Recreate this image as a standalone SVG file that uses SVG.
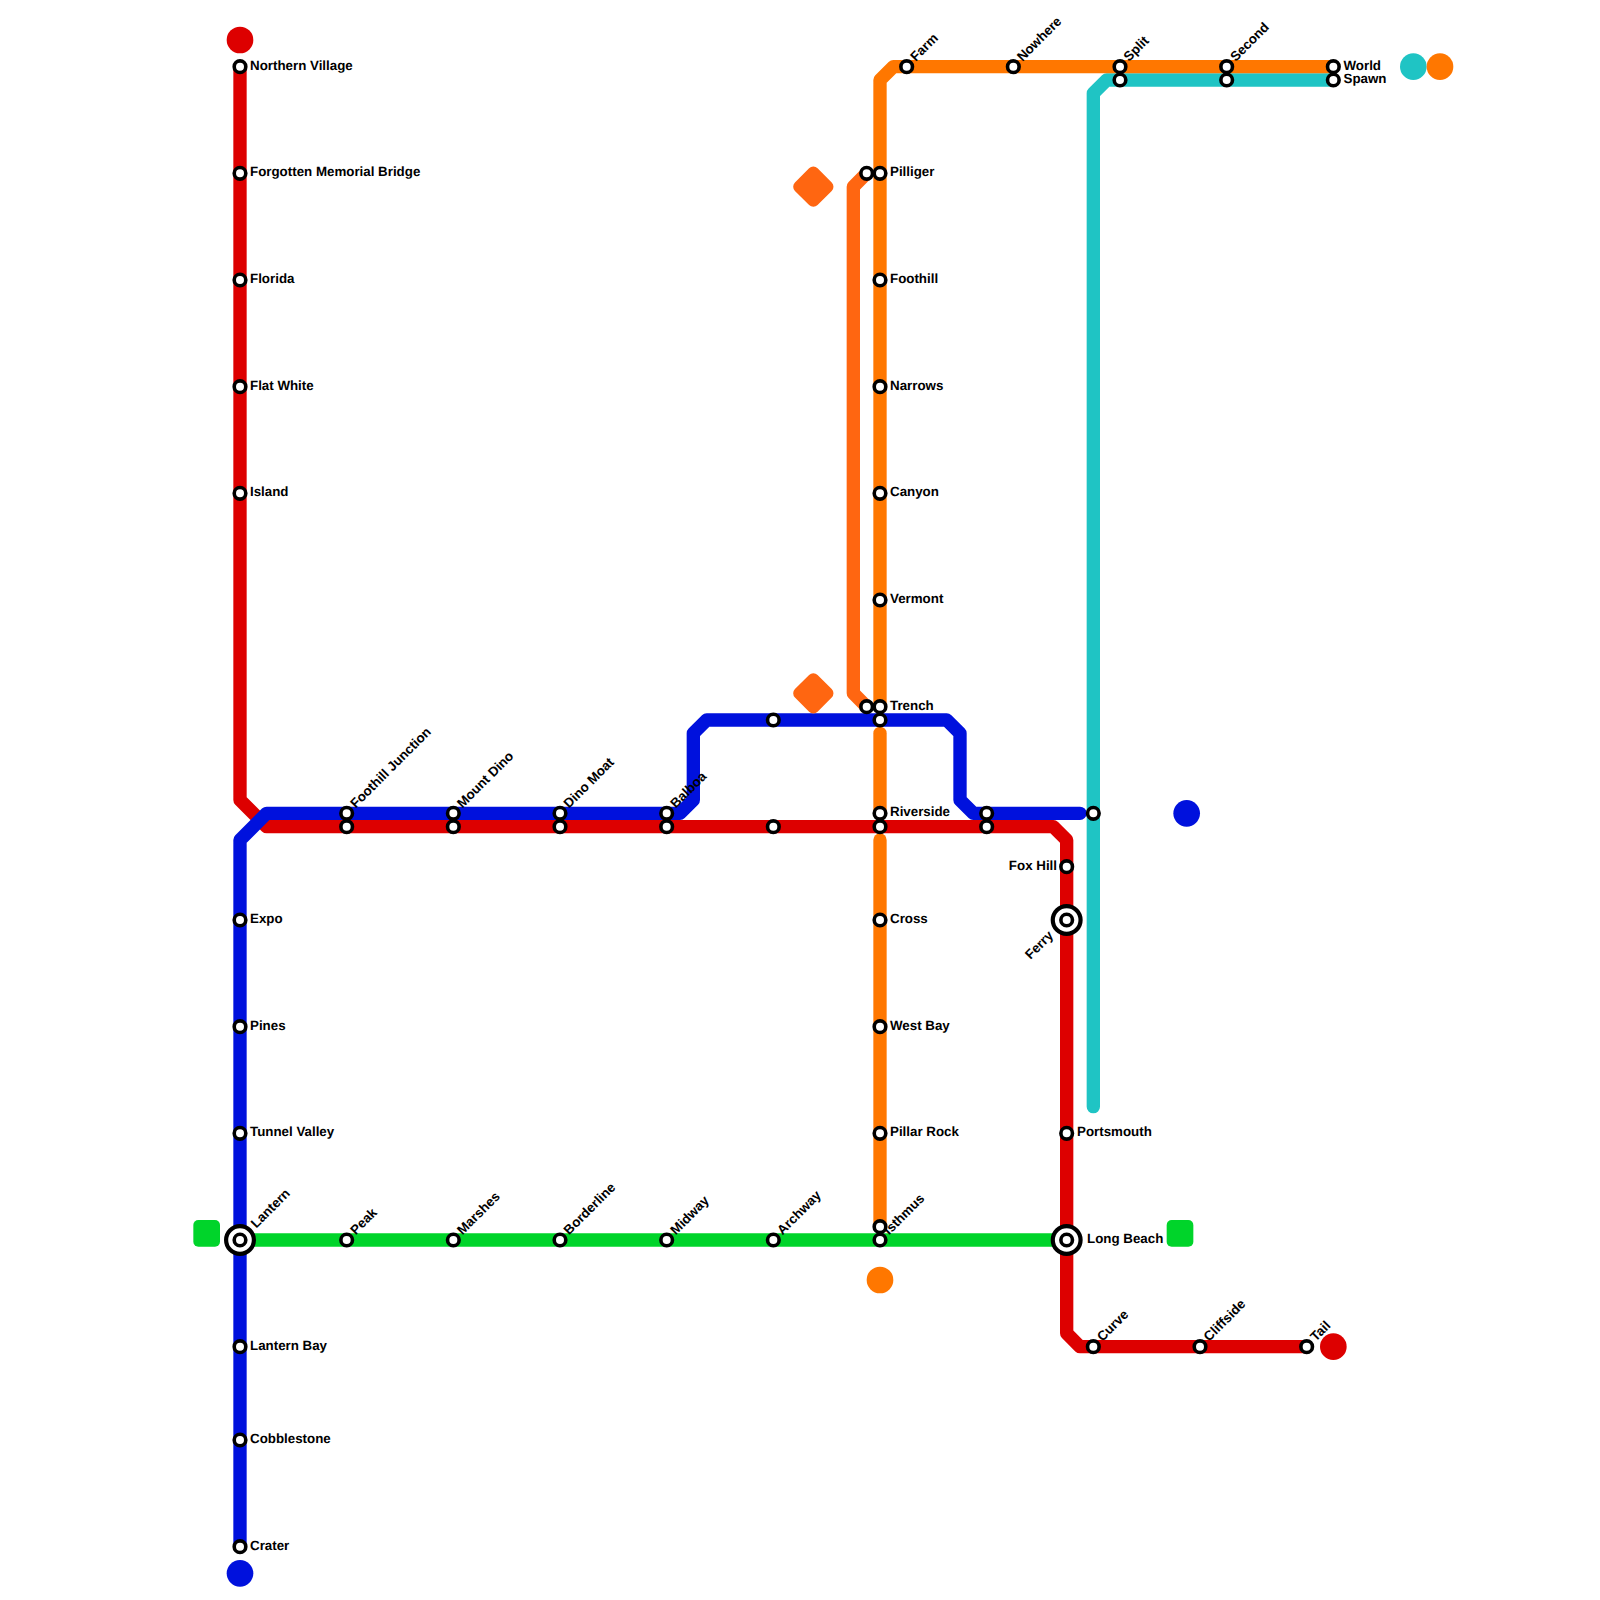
<svg xmlns="http://www.w3.org/2000/svg" width="1600" height="1600" viewBox="0 0 1600 1600">
<style>
.l{fill:none;stroke-width:13.33;stroke-linecap:round;stroke-linejoin:round}
.s{fill:#fff;stroke:#000;stroke-width:3.6}
.o{fill:#fff;stroke:#000;stroke-width:4.2}
text{font-family:"Liberation Sans",Arial,sans-serif;font-weight:bold;font-size:13.33px;fill:#000;text-rendering:geometricPrecision}
.e{text-anchor:end}
.red{fill:#dd0000}.blue{fill:#0011dd}.cyan{fill:#1fc4c4}.orange{fill:#ff7700}.dark{fill:#ff6611}.green{fill:#00d42a}
</style>
<rect width="1600" height="1600" fill="#fff"/>
<g id="connectors">
<path class="l" stroke="#1fc4c4" d="M1093.33 1106.67V93.33L1106.67 80H1333.33"/>
<path class="l" stroke="#ff7700" d="M1333.33 66.67H893.33L880 80V706.67"/>
<path class="l" stroke="#ff7700" d="M880 733.33V813.33"/>
<path class="l" stroke="#ff7700" d="M880 840V1226.67"/>
<path class="l" stroke="#ff6611" d="M866.67 173.33L853.33 186.67V693.33L866.67 706.67"/>
<path class="l" stroke="#dd0000" d="M240 66.67V800L266.67 826.67H1053.33L1066.67 840V1333.33L1080 1346.67H1306.67"/>
<path class="l" stroke="#0011dd" d="M240 1546.67V840L266.67 813.33H680L693.33 800V733.33L706.67 720H946.67L960 733.33V800L973.33 813.33H1080"/>
<path class="l" stroke="#00d42a" d="M240 1240H1066.67"/>
</g>
<g id="terminals">
<circle class="red" cx="240" cy="40" r="13.33"/>
<circle class="red" cx="1333.33" cy="1346.67" r="13.33"/>
<circle class="blue" cx="240" cy="1573.33" r="13.33"/>
<circle class="blue" cx="1186.67" cy="813.33" r="13.33"/>
<circle class="cyan" cx="1413.33" cy="66.67" r="13.33"/>
<circle class="orange" cx="1440" cy="66.67" r="13.33"/>
<circle class="orange" cx="880" cy="1280" r="13.33"/>
<rect class="green" x="193.33" y="1220" width="26.67" height="26.67" rx="5"/>
<rect class="green" x="1166.67" y="1220" width="26.67" height="26.67" rx="5"/>
<rect class="dark" x="797.33" y="170.67" width="32" height="32" rx="6" transform="rotate(45 813.33 186.67)"/>
<rect class="dark" x="797.33" y="677.33" width="32" height="32" rx="6" transform="rotate(45 813.33 693.33)"/>
</g>
<g id="n-northern-village"><circle class="s" cx="240" cy="66.67" r="5.8"/><text x="250" y="69.7">Northern Village</text></g>
<g id="n-forgotten"><circle class="s" cx="240" cy="173.33" r="5.8"/><text x="250" y="176.2">Forgotten Memorial Bridge</text></g>
<g id="n-florida"><circle class="s" cx="240" cy="280" r="5.8"/><text x="250" y="282.9">Florida</text></g>
<g id="n-flat-white"><circle class="s" cx="240" cy="386.67" r="5.8"/><text x="250" y="389.6">Flat White</text></g>
<g id="n-island"><circle class="s" cx="240" cy="493.33" r="5.8"/><text x="250" y="496.2">Island</text></g>
<g id="n-expo"><circle class="s" cx="240" cy="920" r="5.8"/><text x="250" y="922.9">Expo</text></g>
<g id="n-pines"><circle class="s" cx="240" cy="1026.67" r="5.8"/><text x="250" y="1029.6">Pines</text></g>
<g id="n-tunnel-valley"><circle class="s" cx="240" cy="1133.33" r="5.8"/><text x="250" y="1136.2">Tunnel Valley</text></g>
<g id="n-lantern"><circle class="o" cx="240" cy="1240" r="13.9"/><circle class="s" cx="240" cy="1240" r="5.8"/><text transform="translate(256.3 1228.7) rotate(-45)">Lantern</text></g>
<g id="n-lantern-bay"><circle class="s" cx="240" cy="1346.67" r="5.8"/><text x="250" y="1349.6">Lantern Bay</text></g>
<g id="n-cobblestone"><circle class="s" cx="240" cy="1440" r="5.8"/><text x="250" y="1442.9">Cobblestone</text></g>
<g id="n-crater"><circle class="s" cx="240" cy="1546.67" r="5.8"/><text x="250" y="1549.6">Crater</text></g>
<g id="n-foothill-junction"><circle class="s" cx="346.67" cy="813.33" r="5.8"/><text transform="translate(355.8 808.7) rotate(-45)">Foothill Junction</text></g>
<g id="n-foothill-junction-2"><circle class="s" cx="346.67" cy="826.67" r="5.8"/></g>
<g id="n-mount-dino"><circle class="s" cx="453.33" cy="813.33" r="5.8"/><text transform="translate(462.5 808.7) rotate(-45)">Mount Dino</text></g>
<g id="n-mount-dino-2"><circle class="s" cx="453.33" cy="826.67" r="5.8"/></g>
<g id="n-dino-moat"><circle class="s" cx="560" cy="813.33" r="5.8"/><text transform="translate(569.1 808.7) rotate(-45)">Dino Moat</text></g>
<g id="n-dino-moat-2"><circle class="s" cx="560" cy="826.67" r="5.8"/></g>
<g id="n-balboa"><circle class="s" cx="666.67" cy="813.33" r="5.8"/><text transform="translate(675.8 808.7) rotate(-45)">Balboa</text></g>
<g id="n-balboa-2"><circle class="s" cx="666.67" cy="826.67" r="5.8"/></g>
<g id="n-x773-720"><circle class="s" cx="773.33" cy="720" r="5.8"/></g>
<g id="n-x773-826"><circle class="s" cx="773.33" cy="826.67" r="5.8"/></g>
<g id="n-x986-813"><circle class="s" cx="986.67" cy="813.33" r="5.8"/></g>
<g id="n-x986-826"><circle class="s" cx="986.67" cy="826.67" r="5.8"/></g>
<g id="n-x1093-813"><circle class="s" cx="1093.33" cy="813.33" r="5.8"/></g>
<g id="n-peak"><circle class="s" cx="346.67" cy="1240" r="5.8"/><text transform="translate(355.8 1235.4) rotate(-45)">Peak</text></g>
<g id="n-marshes"><circle class="s" cx="453.33" cy="1240" r="5.8"/><text transform="translate(462.5 1235.4) rotate(-45)">Marshes</text></g>
<g id="n-borderline"><circle class="s" cx="560" cy="1240" r="5.8"/><text transform="translate(569.1 1235.4) rotate(-45)">Borderline</text></g>
<g id="n-midway"><circle class="s" cx="666.67" cy="1240" r="5.8"/><text transform="translate(675.8 1235.4) rotate(-45)">Midway</text></g>
<g id="n-archway"><circle class="s" cx="773.33" cy="1240" r="5.8"/><text transform="translate(782.5 1235.4) rotate(-45)">Archway</text></g>
<g id="n-isthmus"><circle class="s" cx="880" cy="1240" r="5.8"/><text transform="translate(889.1 1235.4) rotate(-45)">Isthmus</text></g>
<g id="n-isthmus-2"><circle class="s" cx="880" cy="1226.67" r="5.8"/></g>
<g id="n-long-beach"><circle class="o" cx="1066.67" cy="1240" r="13.9"/><circle class="s" cx="1066.67" cy="1240" r="5.8"/><text x="1087" y="1242.9">Long Beach</text></g>
<g id="n-pilliger-2"><circle class="s" cx="866.67" cy="173.33" r="5.8"/></g>
<g id="n-pilliger"><circle class="s" cx="880" cy="173.33" r="5.8"/><text x="890" y="176.2">Pilliger</text></g>
<g id="n-foothill"><circle class="s" cx="880" cy="280" r="5.8"/><text x="890" y="282.9">Foothill</text></g>
<g id="n-narrows"><circle class="s" cx="880" cy="386.67" r="5.8"/><text x="890" y="389.6">Narrows</text></g>
<g id="n-canyon"><circle class="s" cx="880" cy="493.33" r="5.8"/><text x="890" y="496.2">Canyon</text></g>
<g id="n-vermont"><circle class="s" cx="880" cy="600" r="5.8"/><text x="890" y="602.9">Vermont</text></g>
<g id="n-trench-2"><circle class="s" cx="866.67" cy="706.67" r="5.8"/></g>
<g id="n-trench"><circle class="s" cx="880" cy="706.67" r="5.8"/><text x="890" y="709.6">Trench</text></g>
<g id="n-trench-3"><circle class="s" cx="880" cy="720" r="5.8"/></g>
<g id="n-riverside"><circle class="s" cx="880" cy="813.33" r="5.8"/><text x="890" y="816.2">Riverside</text></g>
<g id="n-riverside-2"><circle class="s" cx="880" cy="826.67" r="5.8"/></g>
<g id="n-cross"><circle class="s" cx="880" cy="920" r="5.8"/><text x="890" y="922.9">Cross</text></g>
<g id="n-west-bay"><circle class="s" cx="880" cy="1026.67" r="5.8"/><text x="890" y="1029.6">West Bay</text></g>
<g id="n-pillar-rock"><circle class="s" cx="880" cy="1133.33" r="5.8"/><text x="890" y="1136.2">Pillar Rock</text></g>
<g id="n-farm"><circle class="s" cx="906.67" cy="66.67" r="5.8"/><text transform="translate(915.8 62) rotate(-45)">Farm</text></g>
<g id="n-nowhere"><circle class="s" cx="1013.33" cy="66.67" r="5.8"/><text transform="translate(1022.5 62) rotate(-45)">Nowhere</text></g>
<g id="n-split"><circle class="s" cx="1120" cy="66.67" r="5.8"/><text transform="translate(1129.1 62) rotate(-45)">Split</text></g>
<g id="n-split-2"><circle class="s" cx="1120" cy="80" r="5.8"/></g>
<g id="n-second"><circle class="s" cx="1226.67" cy="66.67" r="5.8"/><text transform="translate(1235.8 62) rotate(-45)">Second</text></g>
<g id="n-second-2"><circle class="s" cx="1226.67" cy="80" r="5.8"/></g>
<g id="n-world"><circle class="s" cx="1333.33" cy="66.67" r="5.8"/><text x="1343.5" y="69.6">World</text></g>
<g id="n-spawn"><circle class="s" cx="1333.33" cy="80" r="5.8"/><text x="1343.5" y="82.9">Spawn</text></g>
<g id="n-fox-hill"><circle class="s" cx="1066.67" cy="866.67" r="5.8"/><text class="e" x="1057" y="869.6">Fox Hill</text></g>
<g id="n-ferry"><circle class="o" cx="1066.67" cy="920" r="13.9"/><circle class="s" cx="1066.67" cy="920" r="5.8"/><text class="e" transform="translate(1054 936.3) rotate(-45)">Ferry</text></g>
<g id="n-portsmouth"><circle class="s" cx="1066.67" cy="1133.33" r="5.8"/><text x="1077" y="1136.2">Portsmouth</text></g>
<g id="n-curve"><circle class="s" cx="1093.33" cy="1346.67" r="5.8"/><text transform="translate(1102.5 1342) rotate(-45)">Curve</text></g>
<g id="n-cliffside"><circle class="s" cx="1200" cy="1346.67" r="5.8"/><text transform="translate(1209.1 1342) rotate(-45)">Cliffside</text></g>
<g id="n-tail"><circle class="s" cx="1306.67" cy="1346.67" r="5.8"/><text transform="translate(1315.8 1342) rotate(-45)">Tail</text></g>
</svg>
